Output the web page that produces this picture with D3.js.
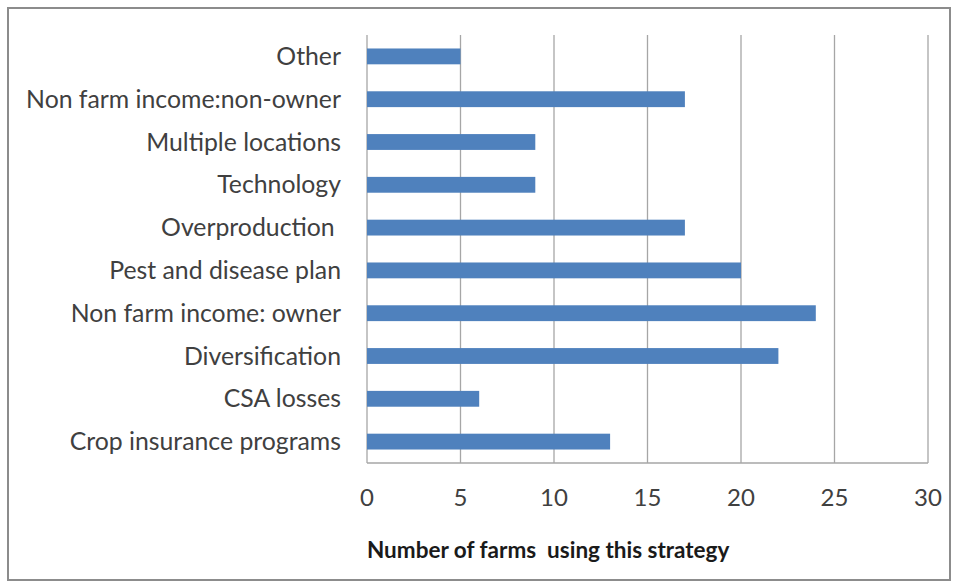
<!DOCTYPE html>
<html>
<head>
<meta charset="utf-8">
<script src="https://cdn.jsdelivr.net/npm/d3@7"></script>
<style>
  body { margin: 0; background: #fff; }
</style>
</head>
<body>
<div id="chart"></div>
<script>
// data, top to bottom as drawn
const categories = [
    "Other",
    "Non farm income:non-owner",
    "Multiple locations",
    "Technology",
    "Overproduction ",
    "Pest and disease plan",
    "Non farm income: owner",
    "Diversification",
    "CSA losses",
    "Crop insurance programs"
];
const farms = [5, 17, 9, 9, 17, 20, 24, 22, 6, 13];
const xTicks = [0, 5, 10, 15, 20, 25, 30];
const xTitle = "Number of farms  using this strategy";

const W = 958, H = 584;
const margin = { top: 35, right: 30, bottom: 121, left: 367 },
    width = 928 - margin.left,
    height = 463 - margin.top;

const svg = d3.select("#chart")
    .append("svg")
    .attr("width", W)
    .attr("height", H);

// outer frame
svg.append("rect")
    .attr("x", 8).attr("y", 8)
    .attr("width", 942).attr("height", 572)
    .attr("fill", "none")
    .attr("stroke", "#8c8c8c")
    .attr("stroke-width", 2);

const g = svg.append("g")
    .attr("transform", `translate(${margin.left},${margin.top})`);

const x = d3.scaleLinear()
    .domain([0, 30])
    .range([0, width]);

const y = d3.scaleBand()
    .domain(categories)
    .range([0, height])
    .paddingInner(0.63)
    .paddingOuter(0.315);

// vertical gridlines
g.append("g")
    .selectAll("line")
    .data(xTicks)
    .join("line")
    .attr("x1", d => x(d))
    .attr("x2", d => x(d))
    .attr("y1", 0)
    .attr("y2", height)
    .attr("stroke", "#a6a6a6")
    .attr("stroke-width", 1.3);

// bottom axis line
g.append("line")
    .attr("x1", 0).attr("x2", width)
    .attr("y1", height).attr("y2", height)
    .attr("stroke", "#a6a6a6")
    .attr("stroke-width", 1.3);

// bars
g.selectAll("rect.bar")
    .data(farms)
    .join("rect")
    .attr("class", "bar")
    .attr("x", x(0))
    .attr("y", (d, i) => y(categories[i]))
    .attr("width", d => x(d) - x(0))
    .attr("height", y.bandwidth())
    .attr("fill", "#4f81bd");

// category labels
g.append("g")
    .selectAll("text")
    .data(categories)
    .join("text")
    .attr("x", -26)
    .attr("y", d => y(d) + y.bandwidth() / 2)
    .attr("dy", "0.35em")
    .attr("text-anchor", "end")
    .attr("style", "font-size: 24.8px; font-family: Lato, sans-serif; white-space: pre")
    .attr("fill", "#404040")
    .text(d => d);

// tick labels
g.append("g")
    .selectAll("text")
    .data(xTicks)
    .join("text")
    .attr("x", d => x(d))
    .attr("y", height + 35)
    .attr("dy", "0.35em")
    .attr("text-anchor", "middle")
    .attr("style", "font-size: 24px; font-family: Lato, sans-serif")
    .attr("fill", "#404040")
    .text(d => d);

// axis title
g.append("text")
    .attr("x", 0)
    .attr("y", height + 87)
    .attr("dy", "0.35em")
    .attr("text-anchor", "start")
    .attr("style", "font-size: 22.5px; font-weight: bold; font-family: Lato, sans-serif; white-space: pre")
    .attr("fill", "#1a1a1a")
    .text(xTitle);
</script>
</body>
</html>
